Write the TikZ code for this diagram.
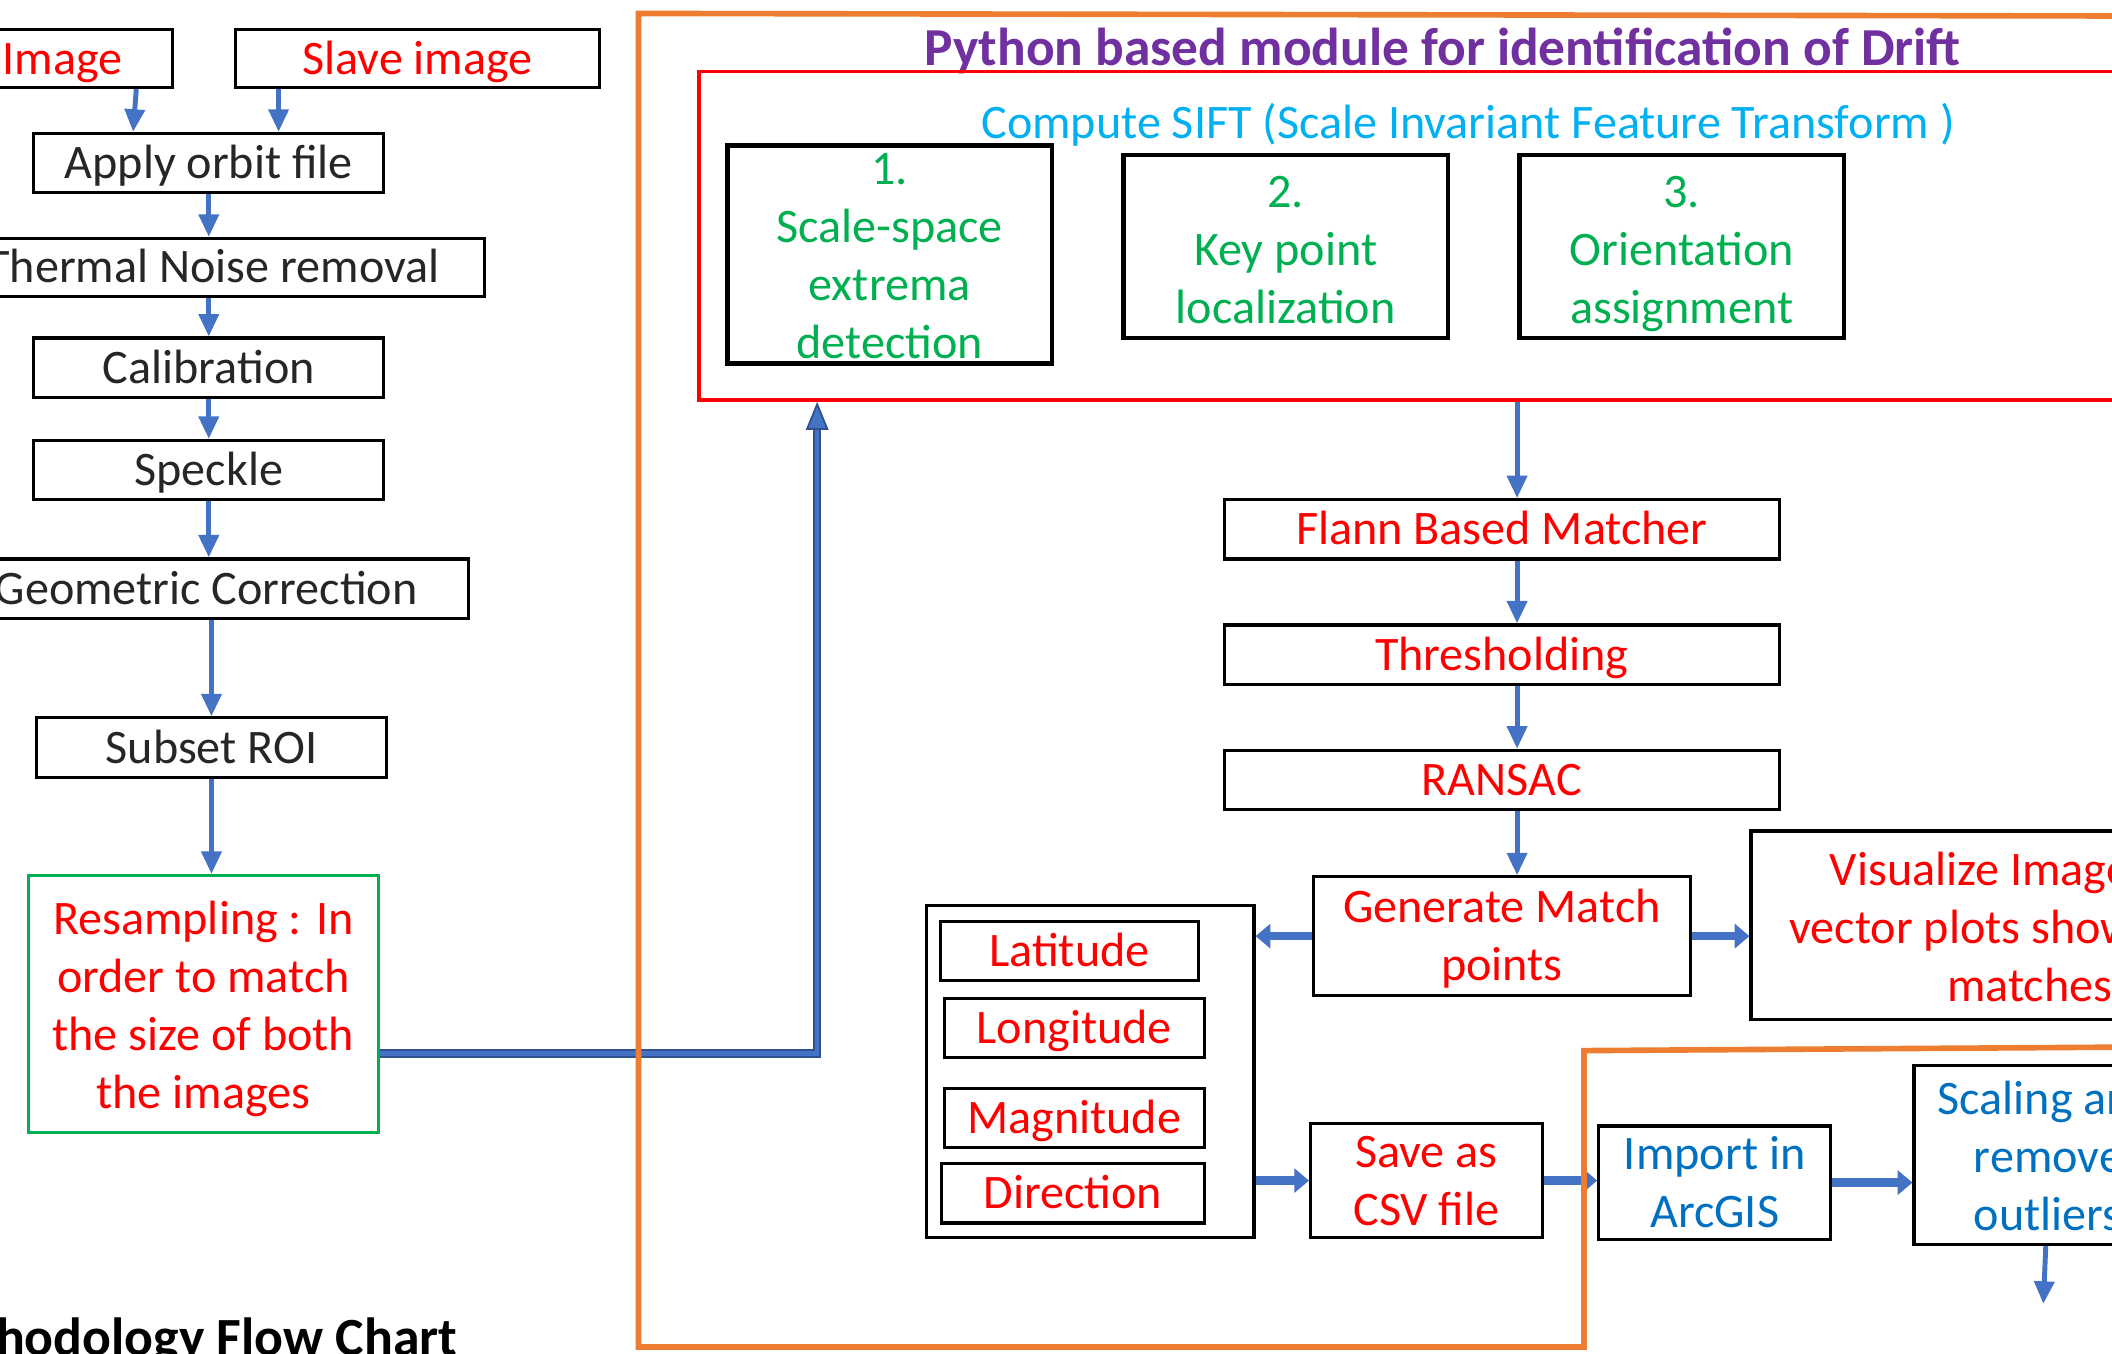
\documentclass[tikz,border=0pt]{standalone}
\usepackage{fontspec}
\setmainfont{Carlito}
\usetikzlibrary{arrows.meta,calc}

\definecolor{txtred}{RGB}{255,0,0}
\definecolor{txtgreen}{RGB}{0,176,80}
\definecolor{txtcyan}{RGB}{0,176,240}
\definecolor{txtblue}{RGB}{0,112,192}
\definecolor{txtdark}{RGB}{38,38,38}
\definecolor{titlepurple}{RGB}{112,48,160}
\definecolor{frameorange}{RGB}{237,125,49}
\definecolor{arrowblue}{RGB}{68,114,196}
\definecolor{bandedge}{RGB}{47,82,143}

\newdimen\pu \pu=0.01347cm

\tikzset{
  wh/.style 2 args={minimum width=#1*0.01347cm, minimum height=#2*0.01347cm},
  stepbox/.style={draw=black, line width=0.9pt, inner sep=0pt, align=center, text=txtdark,
    text height=8.8pt, text depth=0pt},
  two lines/.style={text height=25.3pt},
  three lines/.style={text height=44pt},
  four lines/.style={text height=59.4pt},
  siftbox/.style={stepbox, line width=1.3pt, text=txtgreen},
  redtext/.style={text=txtred},
  arr/.style={arrowblue, line width=1.4pt, -{Triangle[width=5.6pt,length=6.4pt]}},
  fatarr/.style={arrowblue, line width=2.4pt, -{Triangle[width=6.8pt,length=4.2pt]}},
  frame/.style={frameorange, line width=1.6pt},
}

\begin{document}
\begin{tikzpicture}[x=0.01347cm, y=-0.01347cm, font=\fontsize{13.7}{16.5}\selectfont]
\useasboundingbox (0,0) rectangle (1568,1005);
\clip (0,0) rectangle (1568,1005);

% preprocessing chain
\node[stepbox, redtext, wh={163}{43}] (img) at (46.5,43.5) {Image};
\node[stepbox, redtext, wh={270}{43}] (slave) at (310,43.5) {Slave image};
\node[stepbox, wh={260}{44}] (apply) at (155,121) {Apply orbit file};
\node[stepbox, wh={404}{43}] (thermal) at (158,198.5) {Thermal Noise removal};
\node[stepbox, wh={260}{44}] (calib) at (155,273) {Calibration};
\node[stepbox, wh={260}{44}] (speckle) at (155,349) {Speckle};
\node[stepbox, wh={390}{44}] (geo) at (153,437) {Geometric Correction};
\node[stepbox, wh={260}{44}] (subset) at (157,555) {Subset ROI};
\node[stepbox, four lines, draw=txtgreen, redtext, wh={260}{191}] (resamp) at (151,745.5)
  {Resampling : In\\order to match\\the size of both\\the images};

\draw[arr] ($(img.south east)+(-28,0)$) -- ($(apply.north west)+(75,0)$);
\draw[arr] ($(slave.south west)+(33,0)$) -- ($(apply.north west)+(183,0)$);
\draw[arr] (apply.south) -- (apply.south |- thermal.north);
\draw[arr] (calib.north |- thermal.south) -- (calib.north);
\draw[arr] (speckle.north |- calib.south) -- (speckle.north);
\draw[arr] (speckle.south) -- (speckle.south |- geo.north);
\draw[arr] (subset.north |- geo.south) -- (subset.north);
\draw[arr] (subset.south) -- (subset.south |- resamp.north);

\node[font=\fontsize{15.3}{18}\selectfont\bfseries, anchor=base east, inner sep=0pt] (charttitle)
  at (340,1006) {Methodology Flow Chart};

% python module
\node[font=\fontsize{15.2}{18}\selectfont\bfseries, text=titlepurple] (title) at (1071,38)
  {Python based module for identification of Drift};
\node[draw=txtred, line width=1pt, inner sep=0pt, wh={1082}{244}] (sift) at (1060,175) {};
\node[text=txtcyan] (siftlabel) at (1090,93) {Compute SIFT (Scale Invariant Feature Transform )};
\node[siftbox, four lines, wh={241}{162}] (s1) at (660.5,189) {1.\\Scale-space\\extrema\\detection};
\node[siftbox, three lines, wh={241}{136}] (s2) at (954.5,183) {2.\\Key point\\localization};
\node[siftbox, three lines, wh={241}{136}] (s3) at (1248.5,183) {3.\\Orientation\\assignment};

% resampled pair goes into SIFT
\draw[bandedge, line width=2.4pt,
  -{Triangle[width=6.4pt,length=8pt,fill=arrowblue,line width=0.5pt]}]
  ($(resamp.east)+(0,36.5)$) -| ($(sift.south west)+(89,0)$);
\draw[arrowblue, line width=1.3pt, shorten >=8pt]
  ($(resamp.east)+(0,36.5)$) -| ($(sift.south west)+(89,0)$);

\node[stepbox, redtext, wh={412}{44}] (flann) at (1115,393) {Flann Based Matcher};
\node[stepbox, redtext, wh={412}{44}] (thresh) at (1115,486) {Thresholding};
\node[stepbox, redtext, wh={412}{44}] (ransac) at (1115,579) {RANSAC};
\node[stepbox, two lines, redtext, wh={280}{88}] (gen) at (1115,695) {Generate Match\\points};

\draw[arr] (sift.south -| s3.west) -- (flann.north -| s3.west);
\draw[arr] (flann.south -| s3.west) -- (thresh.north -| s3.west);
\draw[arr] (thresh.south -| s3.west) -- (ransac.north -| s3.west);
\draw[arr] (ransac.south -| s3.west) -- (gen.north -| s3.west);

\node[stepbox, wh={320}{140}] (vis) at (1460,687) {};
\node[redtext, anchor=west, align=left, inner sep=0pt] (vistext) at (1328,688)
  {\hspace*{30\pu}Visualize Image\\vector plots show\\\hspace*{117\pu}matches};

\node[stepbox, wh={243}{247}] (coords) at (809.5,795.5) {};
\node[stepbox, redtext, wh={192}{44}] (lat) at (794,706) {Latitude};
\node[stepbox, redtext, wh={193}{44}] (lon) at (797.5,763) {Longitude};
\node[stepbox, redtext, wh={193}{44}] (mag) at (797.5,830) {Magnitude};
\node[stepbox, redtext, wh={195}{44}] (dir) at (796.5,886) {Direction};

\node[stepbox, two lines, redtext, wh={172}{85}] (csv) at (1059,876.5) {Save as\\CSV file};
\node[stepbox, two lines, text=txtblue, wh={172}{84}] (arcgis) at (1273,878) {Import in\\ArcGIS};
\node[stepbox, wh={200}{133}] (scaling) at (1521,857.5) {};
\node[text=txtblue, anchor=west, align=left, inner sep=0pt] (scaletext) at (1438,858)
  {Scaling and\\\hspace*{27\pu}remove\\\hspace*{27\pu}outliers};
\coordinate (scaleout) at (1517,968);

\draw[fatarr] (gen.west) -- (gen.west -| coords.east);
\draw[fatarr] (gen.east) -- (gen.east -| vis.west);
\draw[fatarr] (csv.west -| coords.east) -- (csv.west);
\draw[fatarr] (csv.east) -- (csv.east -| arcgis.west);
\draw[fatarr] (arcgis.east) -- (arcgis.east -| scaling.west);
\draw[arr] ($(scaling.south west)+(99,0)$) -- (scaleout);

% orange frames
\draw[frame] (1640,12) -- (474,10) -- (474,1000) -- (1176,1000) -- (1176,780) -- (1640,777);
\end{tikzpicture}
\end{document}
